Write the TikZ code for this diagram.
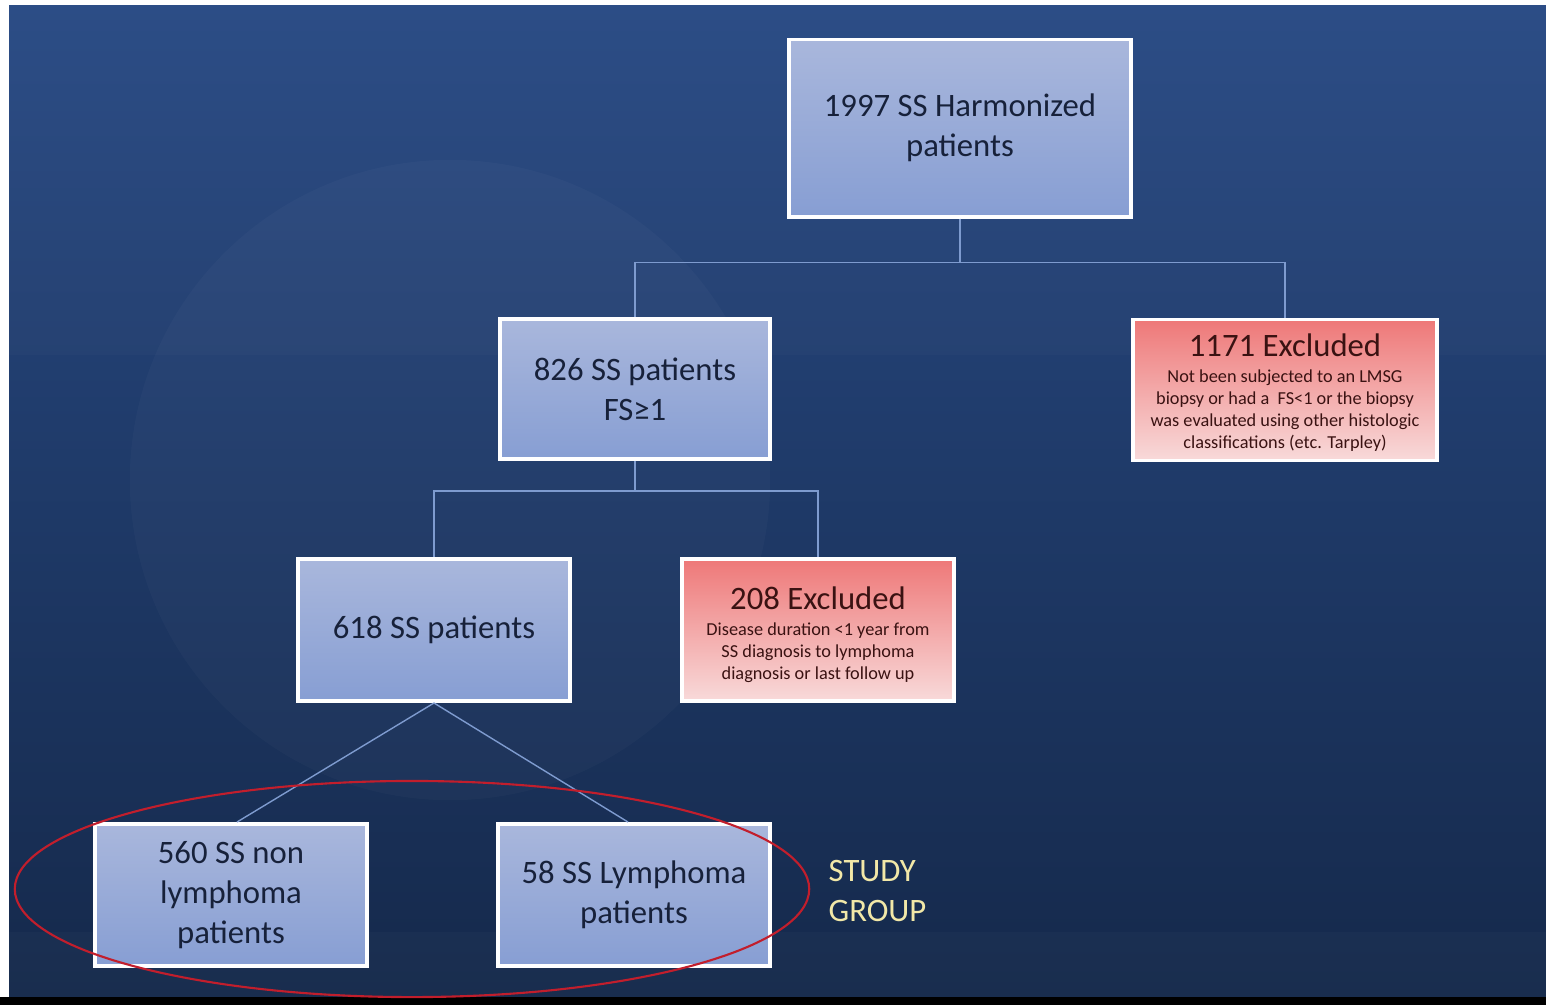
\documentclass[tikz,border=0pt]{standalone}
\usepackage{fontspec}
\setmainfont{Carlito}
\usetikzlibrary{positioning, calc}

\definecolor{slidetop}{HTML}{284A84}
\definecolor{slidebot}{HTML}{15294B}
\definecolor{boxtop}{HTML}{A9B7DC}
\definecolor{boxbot}{HTML}{879ED3}
\definecolor{boxtext}{HTML}{17213A}
\definecolor{extop}{HTML}{EE7878}
\definecolor{exbot}{HTML}{F8DADA}
\definecolor{extext}{HTML}{3A1212}
\definecolor{linkblue}{HTML}{7E9BCF}
\definecolor{ringred}{HTML}{C21E2C}
\definecolor{studyyellow}{HTML}{F2E8A8}

\newcommand{\bigtxt}{\fontsize{9.3}{11.4}\selectfont}
\newcommand{\smalltxt}{\fontsize{5.2}{6.3}\selectfont}
% small print under an "Excluded" title
\newcommand{\exnote}[1]{{\smalltxt\begin{tabular}[t]{@{}c@{}}#1\end{tabular}}}

\begin{document}
\begin{tikzpicture}[
    x=0.01cm, y=-0.01cm,
    box/.style={draw=white, line width=1.1pt, top color=boxtop,
        bottom color=boxbot, text=boxtext, align=center,
        font=\bigtxt, inner sep=0pt,
        minimum width=2.71cm, minimum height=1.42cm},
    exbox/.style={box, top color=extop, bottom color=exbot, text=extext},
    link/.style={draw=linkblue, line width=0.4pt}
  ]
  \useasboundingbox (0,0) rectangle (1546,1005);

  % slide background
  \fill[white] (0,0) rectangle (1546,1005);
  \shade[top color=slidetop, bottom color=slidebot] (9,5) rectangle (1546,997);
  \fill[white, opacity=0.025] (450,480) circle [radius=3.2cm];
  \fill[white, opacity=0.02] (9,5) rectangle (1546,355);
  \fill[white, opacity=0.02] (9,932) rectangle (1546,997);
  \fill[black] (0,997) rectangle (1546,1005);

  % boxes
  \node[box, minimum width=3.42cm, minimum height=1.77cm] (all) at (960,128)
    {1997 SS Harmonized\\patients};
  \node[box, minimum width=2.70cm, minimum height=1.40cm] (fs) at (635,389)
    {826 SS patients\\FS≥1};
  \node[exbox, minimum width=3.03cm, minimum height=1.41cm] (exfs) at (1285,390)
    {\rule{0pt}{9pt}1171 Excluded\\[-4pt]\exnote{Not been subjected to an LMSG\\
     biopsy or had a \ FS<1 or the biopsy\\
     was evaluated using other histologic\\
     classifications (etc. Tarpley)}};
  \node[box] (ss) at (434,630) {618 SS patients};
  \node[exbox] (exdur) at (818,630)
    {\rule{0pt}{10pt}208 Excluded\\[-4pt]\exnote{Disease duration <1 year from\\
     SS diagnosis to lymphoma\\
     diagnosis or last follow up}};
  \node[box] (nonlym) at (231,895) {560 SS non\\lymphoma\\patients};
  \node[box] (lym) at (634,895) {58 SS Lymphoma\\patients};

  % tree links
  \draw[link] (all.south) -- ++(0,44) -| (fs.north);
  \draw[link] (all.south) -- ++(0,44) -| (exfs.north);
  \draw[link] (fs.south) -- ++(0,30) -| (ss.north);
  \draw[link] (fs.south) -- ++(0,30) -| (exdur.north);
  \draw[link] (ss.south) -- ($(nonlym.north)+(6,0)$);
  \draw[link] (ss.south) -- ($(lym.north)+(-6,0)$);

  % study group
  \draw[ringred, line width=0.6pt] (412,889) ellipse [x radius=3.97cm, y radius=1.08cm];
  \node[anchor=west, align=left, text=studyyellow, font=\bigtxt, inner sep=0pt]
    (study) at (828,891) {STUDY\\GROUP};
\end{tikzpicture}
\end{document}
